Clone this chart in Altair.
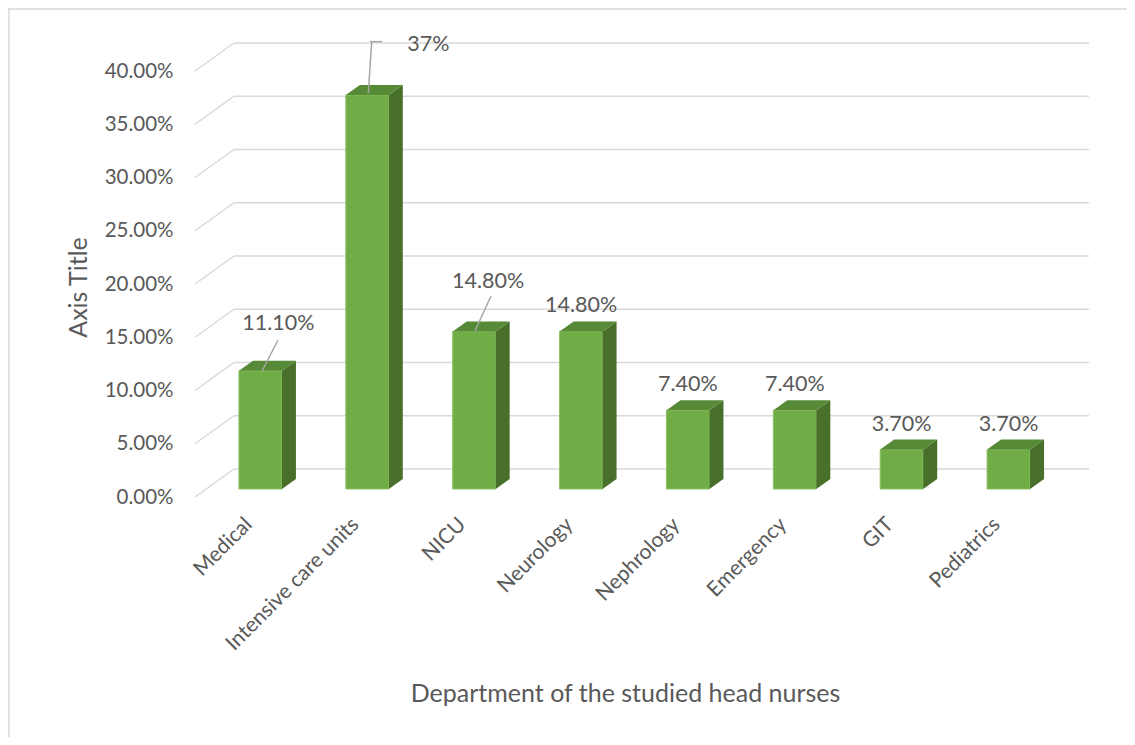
import json
import altair as alt
import pandas as pd

# ---------------- data ----------------
categories = ["Medical", "Intensive care units", "NICU", "Neurology",
              "Nephrology", "Emergency", "GIT", "Pediatrics"]
values = [11.1, 37.0, 14.8, 14.8, 7.4, 7.4, 3.7, 3.7]
value_labels = ["11.10%", "37%", "14.80%", "14.80%", "7.40%", "7.40%", "3.70%", "3.70%"]
y_ticks = [0, 5, 10, 15, 20, 25, 30, 35, 40]

# ---------------- geometry / style ----------------
W, H = 855, 426
PXU = W / 8.0          # px per x unit
PYU = H / 40.0         # px per y unit
WALL_DX, WALL_DY = 39, 28
BAR_DX, BAR_DY = 12, 8
HALF_W = 21.5
DEPTH_X, DEPTH_Y = 14, 10

FRONT = "#70AD47"
TOP = "#568A37"
SIDE = "#48702A"
GRID = "#D9D9D9"
LEADER = "#A6A6A6"
TXT = "#595959"
FONT = "Lato"

# label nudges (pixel offsets from the data point)
default_nudge = (12, -27)
label_nudges = {
    "Medical": (30, -49),
    "Intensive care units": (73, -52),
    "NICU": (26, -51),
}
leader_segments = {
    "Medical": [((29.6, -38.8), (13.6, -7.8))],
    "Intensive care units": [((16.4, -61.3), (13.0, -9.7)),
                             ((14.7, -61.3), (26.7, -61.3))],
    "NICU": [((28.8, -43.4), (12.8, -8.4))],
}

df = pd.DataFrame({"cat": categories, "i": list(range(len(categories))),
                   "v": values, "lab": value_labels})
grid_df = pd.DataFrame({"t": y_ticks})
one = pd.DataFrame({"z": [0]})

xs = alt.Scale(domain=[0, 8], nice=False, zero=False)
ys = alt.Scale(domain=[0, 40], nice=False, zero=False)

x_axis = alt.Axis(
    values=[i + 0.5 for i in range(len(categories))],
    labelExpr=f"{json.dumps(categories)}[floor(datum.value)]",
    labelAngle=-45, labelAlign="right", labelBaseline="middle",
    labelPadding=24, labelOverlap=False, labelFlush=False,
    labelFontSize=21,
    domain=False, ticks=False, grid=False,
    title="Department of the studied head nurses",
    titleX=430, titleY=196, titleAlign="center", titleBaseline="middle",
)
y_axis = alt.Axis(
    values=y_ticks,
    labelExpr="format(datum.value, '.2f') + '%'",
    labelPadding=22, labelFontSize=20.5,
    domain=False, ticks=False, grid=False,
    title="Axis Title", titleX=-117, titleY=216,
    titleAlign="center", titleBaseline="middle",
)


def X(field):
    return alt.X(field, scale=xs, axis=x_axis)


def Y(field):
    return alt.Y(field, scale=ys, axis=y_axis)


# ---------------- walls ----------------
back_grid = alt.Chart(grid_df).mark_rule(
    color=GRID, strokeWidth=1.5, yOffset=-WALL_DY
).encode(
    x=alt.value(WALL_DX), x2=alt.value(W + WALL_DX),
    y=Y("t:Q"),
)
side_grid = alt.Chart(grid_df).mark_rule(
    color=GRID, strokeWidth=1.5, y2Offset=-WALL_DY
).encode(
    x=alt.value(0), x2=alt.value(WALL_DX),
    y=Y("t:Q"), y2="t:Q",
)

# ---------------- bars ----------------
base = alt.Chart(df).transform_calculate(
    xc="datum.i + 0.5",
    x0=f"datum.i + 0.5 - {HALF_W / PXU}",
    x1=f"datum.i + 0.5 + {HALF_W / PXU}",
    zero="0",
)

front = base.mark_bar(
    color=FRONT, stroke="#8CC265", strokeWidth=1,
    xOffset=BAR_DX, x2Offset=BAR_DX, yOffset=-BAR_DY, y2Offset=-BAR_DY,
).encode(
    x=X("x0:Q"), x2="x1:Q",
    y=Y("v:Q"), y2="zero:Q",
)

pairs = base.transform_calculate(k="[0, 1]").transform_flatten(["k"])

side_face = pairs.transform_calculate(
    sx=f"datum.x1 + datum.k * {DEPTH_X / PXU}",
    sy=f"datum.v + datum.k * {DEPTH_Y / PYU}",
    sy2=f"datum.k * {DEPTH_Y / PYU}",
).mark_area(
    color=SIDE, orient="vertical",
    xOffset=BAR_DX, yOffset=-BAR_DY, y2Offset=-BAR_DY,
).encode(
    x=X("sx:Q"),
    y=Y("sy:Q"), y2="sy2:Q",
    detail="cat:N",
)

top_face = pairs.transform_calculate(
    tx0=f"datum.x0 + datum.k * {DEPTH_X / PXU}",
    tx1=f"datum.x1 + datum.k * {DEPTH_X / PXU}",
    ty=f"datum.v + datum.k * {DEPTH_Y / PYU}",
).mark_area(
    color=TOP, orient="horizontal",
    xOffset=BAR_DX, x2Offset=BAR_DX, yOffset=-BAR_DY,
).encode(
    y=Y("ty:Q"),
    x=X("tx0:Q"), x2="tx1:Q",
    detail="cat:N",
)

layers = [back_grid, side_grid, front, side_face, top_face]

# ---------------- labels & leader lines ----------------
for c in categories:
    dx, dy = label_nudges.get(c, default_nudge)
    layers.append(
        base.transform_filter(alt.datum.cat == c).mark_text(
            dx=dx, dy=dy, align="center", baseline="alphabetic",
            font=FONT, fontSize=21.5, color=TXT,
        ).encode(
            x=X("xc:Q"),
            y=Y("v:Q"),
            text="lab:N",
        )
    )
    for (a, b) in leader_segments.get(c, []):
        layers.append(
            base.transform_filter(alt.datum.cat == c).mark_rule(
                color=LEADER, strokeWidth=1.5,
                xOffset=a[0], yOffset=a[1], x2Offset=b[0], y2Offset=b[1],
            ).encode(
                x=X("xc:Q"), x2="xc:Q",
                y=Y("v:Q"), y2="v:Q",
            )
        )

# ---------------- outer frame (left & top edges) ----------------
frame_left = alt.Chart(one).mark_rule(color=GRID, strokeWidth=1.5).encode(
    x=alt.value(-186), y=alt.value(-63), y2=alt.value(H + 240))
frame_top = alt.Chart(one).mark_rule(color=GRID, strokeWidth=1.5).encode(
    y=alt.value(-62), x=alt.value(-187), x2=alt.value(W + 77))
layers += [frame_left, frame_top]

chart = alt.layer(*layers).properties(
    width=W, height=H, autosize="none",
    padding={"left": 187, "top": 63, "right": 77, "bottom": 240},
).configure_view(stroke=None).configure_axis(
    labelFont=FONT, titleFont=FONT, titleFontSize=25,
    labelColor=TXT, titleColor=TXT, titleFontWeight="normal",
)

chart.save("out.html", embed_options={"renderer": "svg", "actions": False})
